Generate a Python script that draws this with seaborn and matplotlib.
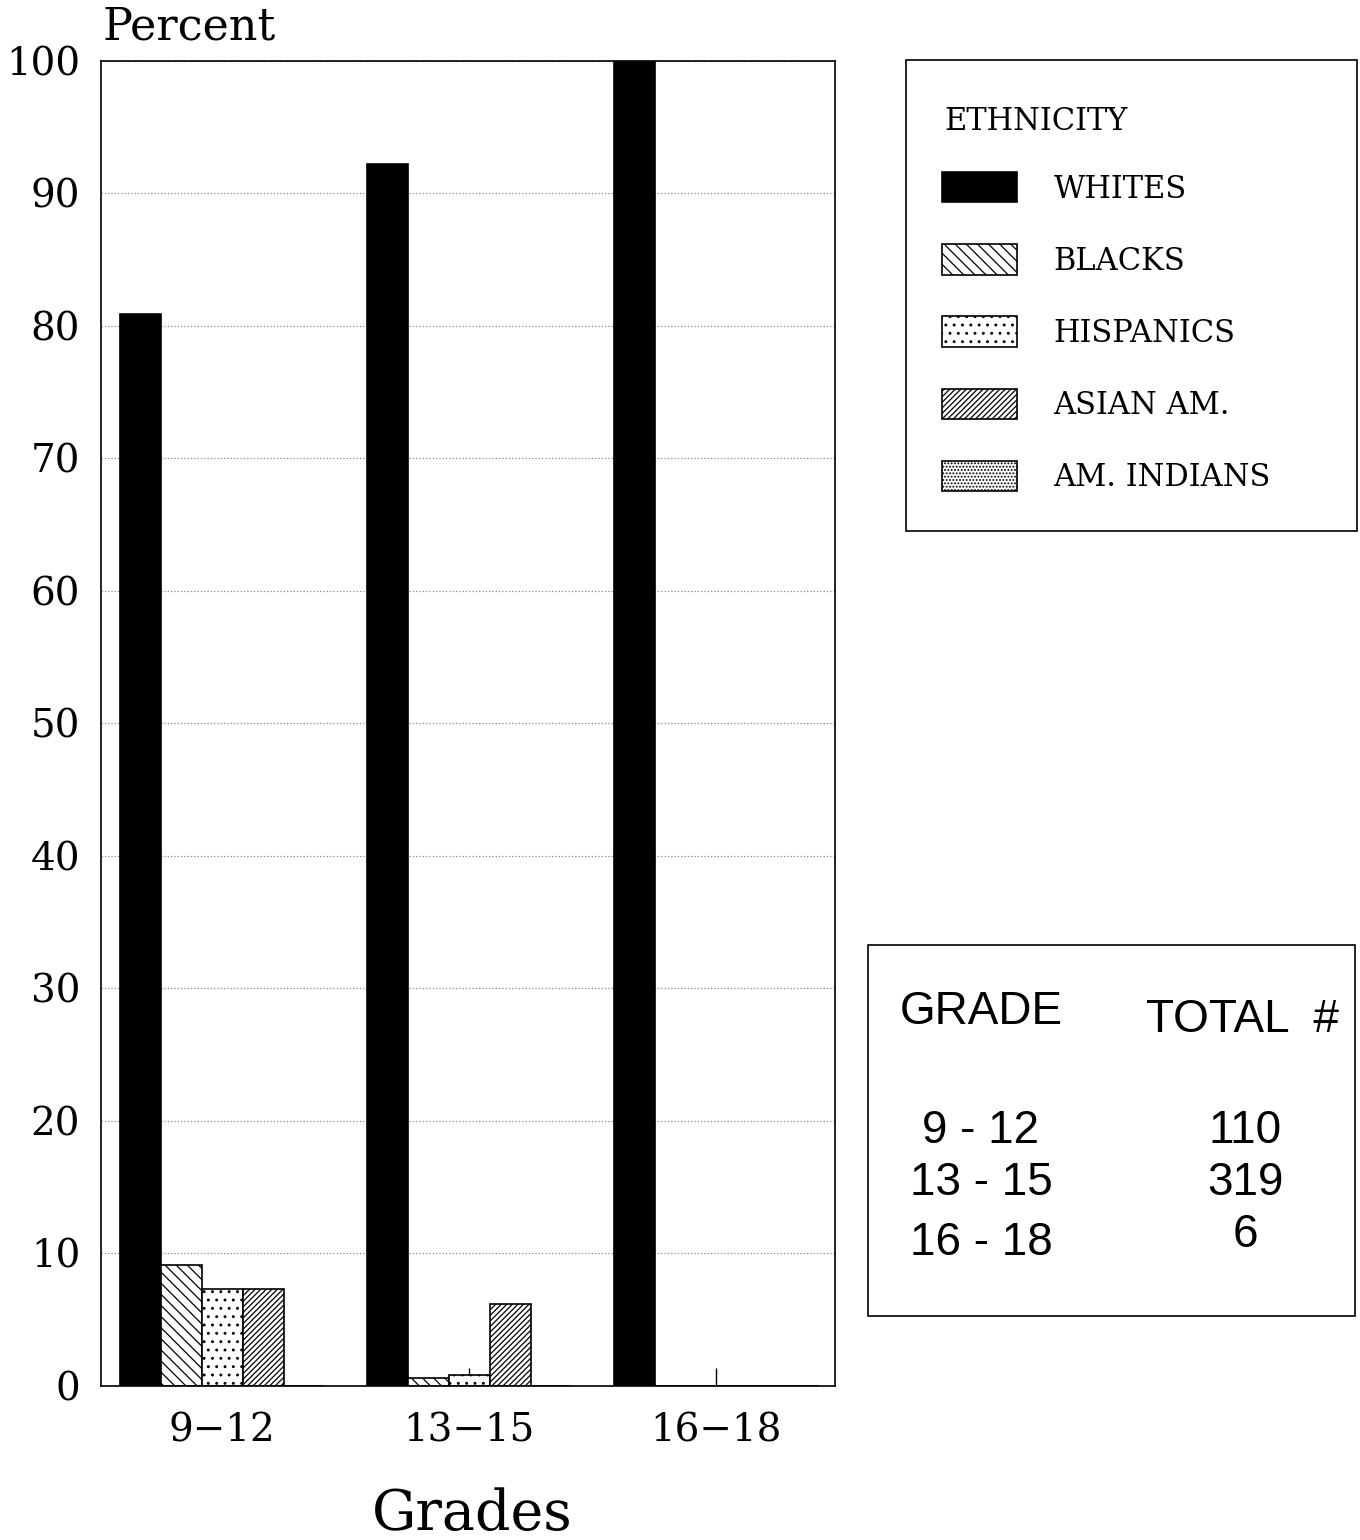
import matplotlib
matplotlib.use('Agg')
import matplotlib.pyplot as plt
from matplotlib.patches import Patch, Rectangle
import seaborn as sns
import pandas as pd

# ====== data
grades = ['9\u221212', '13\u221215', '16\u221218']
ethnicity = ['WHITES', 'BLACKS', 'HISPANICS', 'ASIAN AM.', 'AM. INDIANS']
whites = [80.9, 92.2, 100.0]
blacks = [9.1, 0.6, 0.0]
hispanics = [7.3, 0.85, 0.0]
asian = [7.3, 6.2, 0.0]
am_indians = [0.0, 0.0, 0.0]

table_grades = ['9 - 12', '13 - 15', '16 - 18']
table_totals = ['110', '319', '6']

colors = ['black', 'white', 'white', 'white', 'white']
hatches = [None, '\\\\\\', '..', '//////', '.....']

rows = []
for eth, vals in zip(ethnicity, [whites, blacks, hispanics, asian, am_indians]):
    for g, v in zip(grades, vals):
        rows.append({'grade': g, 'ethnicity': eth, 'pct': v})
df = pd.DataFrame(rows)

sns.set_style('white')
plt.rcParams['font.family'] = ['DejaVu Serif']
plt.rcParams['hatch.linewidth'] = 0.9
plt.rcParams['text.color'] = 'black'
plt.rcParams['xtick.color'] = 'black'
plt.rcParams['ytick.color'] = 'black'

fig = plt.figure(figsize=(13.6, 15.4), dpi=100)
ax = fig.add_axes([0.0743, 0.1, 0.5397, 0.8604])

sns.barplot(data=df, x='grade', y='pct', hue='ethnicity', order=grades,
            hue_order=ethnicity, palette=colors, width=0.83, saturation=1,
            edgecolor='black', linewidth=1.2, legend=False, ax=ax)

for cont, h in zip(ax.containers, hatches):
    for bar in cont:
        if h:
            bar.set_hatch(h)

ax.set_xlim(-0.49, 2.48)
ax.set_ylim(0, 100)
ax.set_yticks(range(0, 101, 10))
ax.yaxis.grid(True, linestyle=':', color='#888888', linewidth=0.9)
ax.set_axisbelow(True)
for s in ax.spines.values():
    s.set_color('black')
    s.set_linewidth(1.2)
    s.set_visible(True)
ax.tick_params(axis='y', left=False, length=0, pad=15, labelsize=28)
ax.tick_params(axis='x', bottom=True, direction='in', length=13, width=1,
               pad=19, labelsize=28)
ax.set_xlabel('')
ax.set_ylabel('')

fig.text(103 / 1360, 1 - 27 / 1540, 'Percent', fontsize=32, ha='left', va='center')
fig.text(472 / 1360, 1 - 1515 / 1540, 'Grades', fontsize=40, ha='center', va='center')

# ====== legend box
fig.patches.append(Rectangle((906 / 1360, 1 - 531 / 1540), 451 / 1360, 471 / 1540,
                             transform=fig.transFigure, fill=False,
                             edgecolor='black', linewidth=1.2))
fig.text(944 / 1360, 1 - 121 / 1540, 'ETHNICITY', fontsize=22, ha='left', va='center')
handles = [Patch(facecolor=c, edgecolor='black', hatch=h, linewidth=1.2)
           for c, h in zip(colors, hatches)]
leg = fig.legend(handles, ethnicity, loc='upper left',
                 bbox_to_anchor=(942 / 1360, 1 - 172 / 1540), frameon=False,
                 fontsize=22, handlelength=2.45, handleheight=1.15,
                 handletextpad=1.2, labelspacing=1.3, borderpad=0,
                 borderaxespad=0)

# ====== totals table
fig.patches.append(Rectangle((868 / 1360, 1 - 1316 / 1540), 487 / 1360, 371 / 1540,
                             transform=fig.transFigure, fill=False,
                             edgecolor='black', linewidth=1.2))
sans = ['Liberation Sans', 'DejaVu Sans']
fig.text(981 / 1360, 1 - 1012 / 1540, 'GRADE', fontsize=33, family=sans,
         ha='center', va='center')
fig.text(1243 / 1360, 1 - 1020 / 1540, 'TOTAL  #', fontsize=33, family=sans,
         ha='center', va='center')
for g, t, yg, yt in zip(table_grades, table_totals, [1131, 1183, 1243], [1131, 1183, 1235]):
    fig.text(981 / 1360, 1 - yg / 1540, g, fontsize=33, family=sans,
             ha='center', va='center')
    fig.text(1245 / 1360, 1 - yt / 1540, t, fontsize=33, family=sans,
             ha='center', va='center')

fig.savefig('out.png', dpi=100)
plt.close()
